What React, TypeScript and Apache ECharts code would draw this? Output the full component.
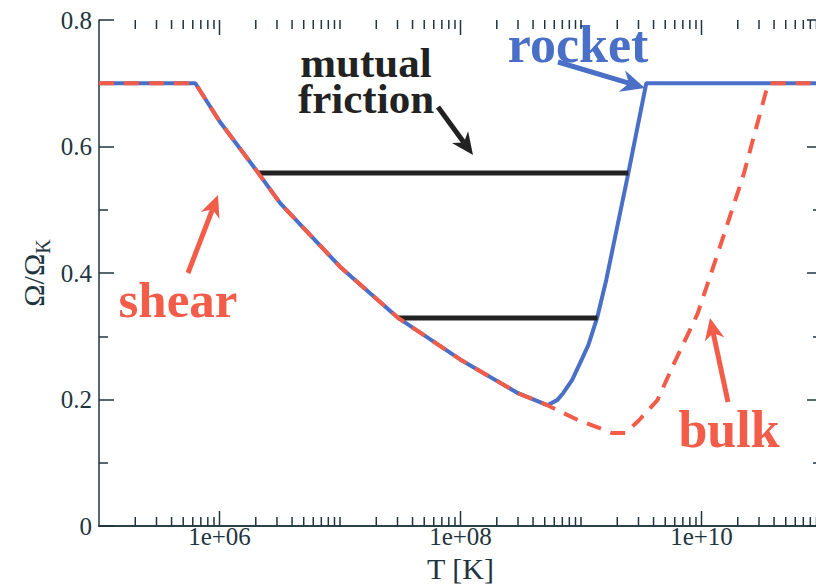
import React, { useEffect, useRef } from "react";
import * as echarts from "echarts";

// ---- data ----
const sharedT = [1e5, 6.3e5, 1e6, 2.1e6, 3.2e6, 1e7, 3.04e7, 1e8, 3e8, 5.25e8];
const sharedOmega = [0.7, 0.7, 0.64, 0.558, 0.51, 0.41, 0.329, 0.263, 0.21, 0.191];

const rocketT = [6.35e8, 7.11e8, 8.45e8, 9.84e8, 1.15e9, 1.36e9, 1.62e9, 2.47e9, 3.48e9, 1e11];
const rocketOmega = [0.199, 0.21, 0.231, 0.258, 0.286, 0.329, 0.389, 0.558, 0.7, 0.7];

const bulkT = [9.33e8, 1.82e9, 2.33e9, 2.99e9, 4.31e9, 5.85e9, 9.25e9, 1.36e10, 2.23e10, 3.58e10, 1e11];
const bulkOmega = [0.168, 0.147, 0.147, 0.166, 0.199, 0.255, 0.335, 0.43, 0.555, 0.7, 0.7];

const frictionUpperT = [2.1e6, 2.47e9];
const frictionUpperOmega = [0.558, 0.558];
const frictionLowerT = [3.04e7, 1.37e9];
const frictionLowerOmega = [0.329, 0.329];

const yTickValues = [0, 0.2, 0.4, 0.6, 0.8];
const majorTickT = [1e6, 1e8, 1e10];
const tickMantissas = [1, 2, 3, 4, 5, 6, 7, 8, 9];
const tickDecades = [5, 6, 7, 8, 9, 10];

const BLUE = "#4a6fc7";
const RED = "#f25c48";
const BLACK = "#222222";
const AXIS = "#1e3540";
const SERIF = "'Liberation Serif', 'DejaVu Serif', serif";

const zip = (xs: number[], ys: number[]) => xs.map((x, i) => [x, ys[i]]);

const minorTickT: number[] = [];
tickDecades.forEach((d) =>
  tickMantissas.forEach((m) => {
    const v = m * Math.pow(10, d);
    if (v > 1e5 && !majorTickT.some((t) => Math.abs(t - v) / t < 1e-9)) minorTickT.push(v);
  })
);

function arrow(x1: number, y1: number, x2: number, y2: number, color: string, w: number, headLen: number, headW: number) {
  const dx = x2 - x1, dy = y2 - y1;
  const L = Math.hypot(dx, dy);
  const ux = dx / L, uy = dy / L;
  const px = -uy, py = ux;
  const bx = x2 - ux * headLen, by = y2 - uy * headLen;
  const ix = x2 - ux * headLen * 0.7, iy = y2 - uy * headLen * 0.7;
  return [
    { type: "line", shape: { x1, y1, x2: ix, y2: iy }, style: { stroke: color, lineWidth: w } },
    {
      type: "polygon",
      shape: {
        points: [
          [x2, y2],
          [bx + (px * headW) / 2, by + (py * headW) / 2],
          [ix, iy],
          [bx - (px * headW) / 2, by - (py * headW) / 2],
        ],
      },
      style: { fill: color },
    },
  ];
}

function tickSeries(data: number[], len: number) {
  return {
    type: "custom",
    silent: true,
    data: data.map((t) => [t, 0]),
    encode: { x: 0, y: 1 },
    z: 5,
    renderItem: (params: any, api: any) => {
      const v = api.value(0);
      const pb = api.coord([v, 0]);
      const pt = api.coord([v, 0.8]);
      return {
        type: "group",
        children: [
          { type: "line", shape: { x1: pb[0], y1: pb[1], x2: pb[0], y2: pb[1] - len }, style: { stroke: AXIS, lineWidth: 1.5 } },
          { type: "line", shape: { x1: pt[0], y1: pt[1], x2: pt[0], y2: pt[1] + len }, style: { stroke: AXIS, lineWidth: 1.5 } },
        ],
      };
    },
  };
}

const textEl = (text: string, x: number, y: number, size: number, color: string, lineHeight?: number) => ({
  type: "text",
  x,
  y,
  style: {
    text,
    font: `bold ${size}px ${SERIF}`,
    fill: color,
    align: "center",
    verticalAlign: "middle",
    ...(lineHeight ? { lineHeight } : {}),
  },
});

export default function App() {
  const ref = useRef<HTMLDivElement>(null);
  useEffect(() => {
    document.body.style.margin = "0";
    const chart = echarts.init(ref.current!, undefined, { renderer: "svg" });
    const yAxisBase = {
      type: "value",
      min: 0,
      max: 0.8,
      interval: 0.2,
      axisLine: { show: true, lineStyle: { color: AXIS, width: 1.5 } },
      axisTick: { show: true, inside: true, length: 15, lineStyle: { color: AXIS, width: 1.5 } },
      minorTick: { show: true, splitNumber: 2, length: 9, lineStyle: { color: AXIS, width: 1.5 } },
      splitLine: { show: false },
    };
    const fmtX = (v: number) => {
      const e = Math.log10(v);
      const r = Math.round(e);
      if (Math.abs(e - r) > 1e-6 || r % 2 !== 0 || r <= 5 || r >= 11) return "";
      return "1e+" + (r < 10 ? "0" + r : String(r));
    };
    const option: any = {
      animation: false,
      textStyle: { fontFamily: SERIF },
      grid: { left: 99, width: 723, top: 20, height: 506, outerBoundsMode: "none", containLabel: false },
      xAxis: [
        {
          type: "log",
          logBase: 10,
          min: 1e5,
          max: 1e11,
          position: "bottom",
          axisLine: { show: true, lineStyle: { color: AXIS, width: 1.5 } },
          axisTick: { show: false },
          splitLine: { show: false },
          axisLabel: { formatter: fmtX, fontFamily: SERIF, fontSize: 25, color: AXIS, margin: -2, lineHeight: 25 },
          name: "T [K]",
          nameLocation: "middle",
          nameGap: 27,
          nameMoveOverlap: false,
          nameTextStyle: { fontFamily: SERIF, fontSize: 30, color: AXIS, lineHeight: 30 },
        },
        {
          type: "log",
          logBase: 10,
          min: 1e5,
          max: 1e11,
          position: "top",
          axisLine: { show: true, lineStyle: { color: AXIS, width: 1.5 } },
          axisTick: { show: false },
          axisLabel: { show: false },
          splitLine: { show: false },
        },
      ],
      yAxis: [
        {
          ...yAxisBase,
          position: "left",
          axisLabel: {
            formatter: (v: number) => (yTickValues.some((t) => Math.abs(t - v) < 1e-9) ? String(Math.round(v * 10) / 10) : ""),
            fontFamily: SERIF,
            fontSize: 25,
            color: AXIS,
            margin: 7,
          },
          name: "{a|Ω/Ω}{b|K}",
          nameLocation: "middle",
          nameGap: 46,
          nameRotate: 90,
          nameMoveOverlap: false,
          nameTextStyle: {
            color: AXIS,
            fontFamily: SERIF,
            rich: {
              a: { fontFamily: SERIF, fontSize: 30, color: AXIS, lineHeight: 40 },
              b: { fontFamily: SERIF, fontSize: 20, color: AXIS, lineHeight: 22, verticalAlign: "bottom" },
            },
          },
        },
        { ...yAxisBase, position: "right", axisLabel: { show: false } },
      ],
      series: [
        {
          type: "line",
          name: "rocket",
          data: zip(sharedT.concat(rocketT), sharedOmega.concat(rocketOmega)),
          showSymbol: false,
          lineStyle: { color: BLUE, width: 4 },
          z: 2,
        },
        {
          type: "line",
          name: "mutual friction upper",
          data: zip(frictionUpperT, frictionUpperOmega),
          showSymbol: false,
          lineStyle: { color: BLACK, width: 5 },
          z: 3,
        },
        {
          type: "line",
          name: "mutual friction lower",
          data: zip(frictionLowerT, frictionLowerOmega),
          showSymbol: false,
          lineStyle: { color: BLACK, width: 5 },
          z: 3,
        },
        {
          type: "line",
          name: "bulk",
          data: zip(sharedT.concat(bulkT), sharedOmega.concat(bulkOmega)),
          showSymbol: false,
          lineStyle: { color: RED, width: 4, type: [15, 10] },
          z: 4,
        },
        tickSeries(majorTickT, 15),
        tickSeries(minorTickT, 9),
      ],
      graphic: [
        textEl("mutual\nfriction", 366, 80, 43, BLACK, 36),
        textEl("rocket", 578, 44, 52, BLUE),
        textEl("shear", 178, 300, 51, RED),
        textEl("bulk", 729, 429, 52, RED),
        ...arrow(438, 107, 473, 155, BLACK, 5, 22, 20),
        ...arrow(558, 62, 645, 88, BLUE, 5, 24, 22),
        ...arrow(188, 273, 218, 195, RED, 5, 22, 20),
        ...arrow(728, 402, 710, 318, RED, 5, 22, 20),
      ],
    };
    chart.setOption(option);
    return () => chart.dispose();
  }, []);
  return <div ref={ref} style={{ width: 816, height: 587 }} />;
}
